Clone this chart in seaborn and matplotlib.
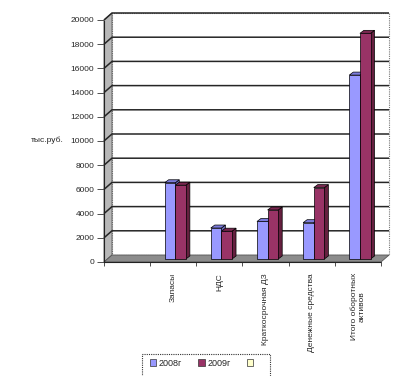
import matplotlib
matplotlib.use("Agg")
import matplotlib.pyplot as plt
import seaborn as sns
import pandas as pd
import numpy as np
from matplotlib.patches import Polygon, Rectangle, Patch
from matplotlib.transforms import offset_copy

categories = ["", "Запасы", "НДС", "Краткосрочная ДЗ", "Денежные средства",
              "Итого оборотных\nактивов"]
data_categories = categories[1:]
years = ["2008г", "2009г"]
values_2008 = [6300, 2560, 3100, 3000, 15200]
values_2009 = [6100, 2300, 4050, 5900, 18650]
y_ticks = list(range(0, 20001, 2000))
y_label = "тыс.руб."

sns.set_style("white")
plt.rcParams['font.family'] = ['Liberation Sans', 'DejaVu Sans']

W, H = 409, 376
fig = plt.figure(figsize=(W / 100, H / 100), dpi=100)
left_px, right_px, bot_px, top_px = 104, 381, 262, 20
ax = fig.add_axes([left_px / W, 1 - bot_px / H, (right_px - left_px) / W, (bot_px - top_px) / H])
ax.set_facecolor("none")

df = pd.DataFrame({
    "cat": data_categories * 2,
    "val": values_2008 + values_2009,
    "year": [years[0]] * len(values_2008) + [years[1]] * len(values_2009),
})
front_cols = ["#9999FF", "#993366"]
side_cols = ["#6a6ab8", "#65203f"]
top_cols = ["#7c7cdc", "#7a2850"]

sns.barplot(data=df, x="cat", y="val", hue="year", order=categories, hue_order=years,
            palette=front_cols, width=0.46, saturation=1, ax=ax, legend=False,
            edgecolor="black", linewidth=0.5, zorder=5)
bars = list(ax.patches)

xmin, xmax = -0.5, len(categories) - 0.5
ymin, ymax = 0, 20000
ax.set_xlim(xmin, xmax)
ax.set_ylim(ymin, ymax)
pxx = (xmax - xmin) / (right_px - left_px)
pxy = (ymax - ymin) / (bot_px - top_px)

# depth of the chart
ddx, ddy = 8 * pxx, 7 * pxy

# back wall
ax.add_patch(Polygon([(xmin + ddx, ddy), (xmax + ddx, ddy), (xmax + ddx, ymax + ddy), (xmin + ddx, ymax + ddy)],
                     closed=True, facecolor="white", edgecolor="#777777", lw=0.8, ls=(0, (1, 1)),
                     clip_on=False, zorder=0))
# left wall
ax.add_patch(Polygon([(xmin, 0), (xmin, ymax), (xmin + ddx, ymax + ddy), (xmin + ddx, ddy)],
                     closed=True, facecolor="#b8b8b8", edgecolor="#555555", lw=0.6, clip_on=False, zorder=1))
# floor
ax.add_patch(Polygon([(xmin, 0), (xmax, 0), (xmax + ddx, ddy), (xmin + ddx, ddy)],
                     closed=True, facecolor="#8c8c8c", edgecolor="#555555", lw=0.6, clip_on=False, zorder=1))
# gridlines
for t in y_ticks[1:]:
    ax.plot([xmin, xmin + ddx, xmax + ddx], [t, t + ddy, t + ddy], color="#262626", lw=1.1,
            clip_on=False, zorder=2, solid_capstyle="butt")

# 3D bars
bdx, bdy = 4 * pxx, 3 * pxy
shift = offset_copy(ax.transData, fig=fig, x=2, y=3, units="dots")
for i, b in enumerate(bars):
    hue_i = 0 if i < len(bars) // 2 else 1
    x0, w, h = b.get_x(), b.get_width(), b.get_height()
    if not np.isfinite(h) or h == 0:
        continue
    b.set_transform(shift)
    side = Polygon([(x0 + w, 0), (x0 + w, h), (x0 + w + bdx, h + bdy), (x0 + w + bdx, bdy)],
                   closed=True, facecolor=side_cols[hue_i], edgecolor="black", lw=0.5,
                   transform=shift, clip_on=False, zorder=4)
    top = Polygon([(x0, h), (x0 + w, h), (x0 + w + bdx, h + bdy), (x0 + bdx, h + bdy)],
                  closed=True, facecolor=top_cols[hue_i], edgecolor="black", lw=0.5,
                  transform=shift, clip_on=False, zorder=4)
    ax.add_patch(side)
    ax.add_patch(top)

# spines
for s in ["top", "right"]:
    ax.spines[s].set_visible(False)
for s in ["left", "bottom"]:
    ax.spines[s].set_linestyle((0, (1, 1)))
    ax.spines[s].set_color("#222222")
    ax.spines[s].set_linewidth(0.8)

ax.set_yticks(y_ticks)
ax.set_yticklabels([str(t) for t in y_ticks], fontsize=6)
ax.tick_params(axis="y", length=5, width=0.6, color="#333333", pad=2, left=True)
ax.set_xticks(range(len(categories)))
ax.set_xticklabels(categories, rotation=90, fontsize=6, va="top", ha="center", multialignment="center")
ax.set_xticks(np.arange(xmin, xmax + 0.01, 1), minor=True)
ax.tick_params(axis="x", which="major", length=0, pad=8)
ax.tick_params(axis="x", which="minor", length=3, width=0.6, color="#333333", bottom=True)
ax.set_xlabel("")
ax.set_ylabel("")

fig.text(64 / W, 1 - 140 / H, y_label, ha="right", va="center", fontsize=6)

# legend
fig.add_artist(Rectangle((142 / W, 1 - 390 / H), 128 / W, 36 / H, transform=fig.transFigure,
                         facecolor="white", edgecolor="#333333", lw=0.8, ls=(0, (1, 1)), zorder=-1))
handles = [Patch(facecolor=front_cols[0], edgecolor="#333333", lw=0.5),
           Patch(facecolor=front_cols[1], edgecolor="#333333", lw=0.5),
           Patch(facecolor="#FFFFCC", edgecolor="#333333", lw=0.5)]
fig.legend(handles, years + [" "], loc="center", bbox_to_anchor=(204 / W, 1 - 363 / H),
           ncol=3, frameon=False, fontsize=6.5, handlelength=0.7, handleheight=0.7,
           handletextpad=0.3, columnspacing=1.8, borderpad=0.1)

fig.savefig("out.png", dpi=100)
